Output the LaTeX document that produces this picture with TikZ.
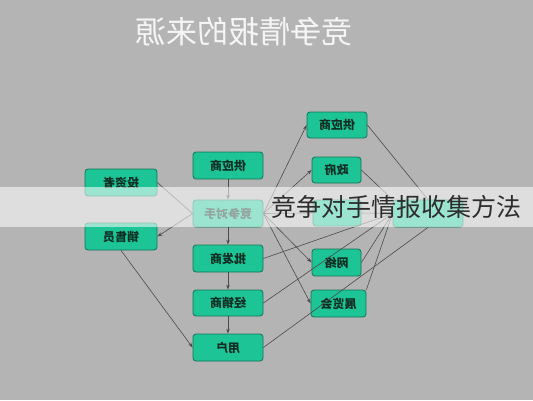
\documentclass[tikz,border=0pt]{standalone}
\usepackage{fontspec}
\usepackage{graphicx}
\usetikzlibrary{arrows.meta}
\newfontfamily\cjk{Noto Sans CJK SC}
\definecolor{bg}{RGB}{180,180,180}
\definecolor{nodefill}{RGB}{28,196,150}
\definecolor{nodeborder}{RGB}{20,115,85}
\definecolor{nodetext}{RGB}{15,45,35}
\definecolor{linec}{RGB}{75,75,75}
\definecolor{bandtext}{RGB}{45,45,45}
\definecolor{titlec}{RGB}{245,245,245}
\tikzset{
  box/.style={draw=nodeborder, fill=nodefill, rounded corners=3pt, line width=0.8pt,
    text=nodetext, font=\cjk\bfseries\fontsize{12}{14}\selectfont, inner sep=0pt},
  conn/.style={draw=linec, line width=0.6pt},
  arr/.style={conn, -{Stealth[length=5pt,width=3.5pt]}}
}
\begin{document}
\begin{tikzpicture}[x=1pt,y=-1pt]
\fill[bg] (0,0) rectangle (533,400);
\useasboundingbox (0,0) rectangle (533,400);
% title
\node[text=titlec, font=\cjk\fontsize{31}{34}\selectfont, inner sep=0pt] (title) at (244,32) {\reflectbox{竞争情报的来源}};
% left column
\node[box, minimum width=72pt, minimum height=27pt] (inv) at (121,182.5) {\reflectbox{投资者}};
\node[box, minimum width=72pt, minimum height=27pt] (sal) at (121,236.5) {\reflectbox{销售员}};
% middle column
\node[box, minimum width=70pt, minimum height=27pt] (sup1) at (228,165.5) {\reflectbox{供应商}};
\node[box, minimum width=70pt, minimum height=27pt] (comp) at (228,213.5) {\reflectbox{竞争对手}};
\node[box, minimum width=70pt, minimum height=27pt] (whol) at (228,258.5) {\reflectbox{批发商}};
\node[box, minimum width=70pt, minimum height=26pt] (dist) at (228,303) {\reflectbox{经销商}};
\node[box, minimum width=70pt, minimum height=27pt] (user) at (228,347.5) {\reflectbox{用户}};
% right column
\node[box, minimum width=60pt, minimum height=26pt] (sup2) at (337,125) {\reflectbox{供应商}};
\node[box, minimum width=49pt, minimum height=26pt] (gov) at (336.5,170) {\reflectbox{政府}};
\node[box, minimum width=48pt, minimum height=26pt] (hid1) at (337,213) {};
\node[box, minimum width=49pt, minimum height=27pt] (net) at (336.5,262.5) {\reflectbox{网络}};
\node[box, minimum width=55pt, minimum height=27pt] (exh) at (338.5,303.5) {\reflectbox{展览会}};
\node[box, minimum width=70pt, minimum height=27pt] (hid2) at (428,213.5) {};
% connectors
\draw[conn] (comp.west) -- (inv.east);
\draw[arr] (comp.west) -- (sal.east);
\draw[arr] (sal.south) -- (user.west);
\draw[arr] (sup1.south) -- (comp.north);
\draw[arr] (comp.south) -- (whol.north);
\draw[arr] (whol.south) -- (dist.north);
\draw[arr] (dist.south) -- (user.north);
\draw[arr] (comp.east) -- (sup2.west);
\draw[arr] (comp.east) -- (gov.west);
\draw[conn] (comp.east) -- (hid1.west);
\draw[arr] (comp.east) -- (net.west);
\draw[arr] (comp.east) -- (exh.west);
\draw[conn] (sup2.east) -- (hid2.north);
\draw[conn] (gov.east) -- (hid2.north west);
\draw[conn] (hid1.east) -- (hid2.west);
\draw[conn] (net.east) -- (hid2.west);
\draw[conn] (exh.north east) -- (hid2.west);
\draw[conn] (whol.east) -- (hid2.west);
\draw[conn] (dist.east) -- (hid2.west);
\draw[conn] (user.east) -- (hid2.south);
% overlay band
\fill[white, opacity=0.56] (0,187) rectangle (533,227);
\node[text=bandtext, font=\cjk\fontsize{25}{28}\selectfont, inner sep=0pt] (band) at (396,207) {竞争对手情报收集方法};
\end{tikzpicture}
\end{document}
